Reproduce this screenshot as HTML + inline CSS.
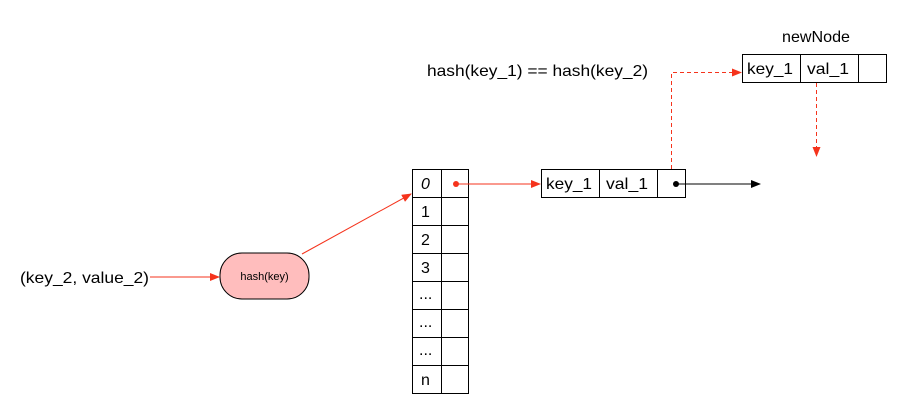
<!DOCTYPE html>
<html><head><style>
body{margin:0;background:#fff;}
svg{display:block;font-family:"Liberation Sans",sans-serif;}
</style></head><body>
<svg width="907" height="414" viewBox="0 0 907 414">
<defs>
<marker id="r" markerWidth="10" markerHeight="8" refX="9" refY="4" orient="auto" markerUnits="userSpaceOnUse"><path d="M0,0 L10,4 L0,8z" fill="#f5331c"/></marker>
<marker id="b" markerWidth="10" markerHeight="8" refX="9" refY="4" orient="auto" markerUnits="userSpaceOnUse"><path d="M0,0 L10,4 L0,8z" fill="#000"/></marker>
</defs>
<g fill="none" stroke="#000" stroke-width="1">
<rect x="412.5" y="169.5" width="56" height="224"/>
<line x1="441.5" y1="169" x2="441.5" y2="393"/>
<line x1="412" y1="197.5" x2="468" y2="197.5"/>
<line x1="412" y1="225.5" x2="468" y2="225.5"/>
<line x1="412" y1="253.5" x2="468" y2="253.5"/>
<line x1="412" y1="281.5" x2="468" y2="281.5"/>
<line x1="412" y1="309.5" x2="468" y2="309.5"/>
<line x1="412" y1="337.5" x2="468" y2="337.5"/>
<line x1="412" y1="365.5" x2="468" y2="365.5"/>
<rect x="541.5" y="169.5" width="144" height="28"/>
<line x1="599.5" y1="169" x2="599.5" y2="197"/>
<line x1="657.5" y1="169" x2="657.5" y2="197"/>
<rect x="742.5" y="54.5" width="144" height="28"/>
<line x1="800.5" y1="54" x2="800.5" y2="82"/>
<line x1="858.5" y1="54" x2="858.5" y2="82"/>
</g>
<rect x="220" y="253" width="89" height="46" rx="22" fill="#ffbdbd" stroke="#000"/>
<text x="264.5" y="280" font-size="11" text-anchor="middle">hash(key)</text>
<g font-size="16">
<text x="20" y="283" textLength="129" lengthAdjust="spacingAndGlyphs">(key_2, value_2)</text>
<text x="427" y="76" textLength="221" lengthAdjust="spacingAndGlyphs">hash(key_1) == hash(key_2)</text>
<text x="782" y="42" textLength="68" lengthAdjust="spacingAndGlyphs">newNode</text>
<text x="421" y="189" font-style="italic">0</text>
<text x="421" y="217">1</text>
<text x="421" y="245">2</text>
<text x="421" y="273">3</text>
<text x="419" y="299">...</text>
<text x="419" y="327">...</text>
<text x="419" y="355">...</text>
<text x="421" y="385">n</text>
<text x="546" y="189" textLength="46" lengthAdjust="spacingAndGlyphs">key_1</text>
<text x="606" y="189" textLength="42" lengthAdjust="spacingAndGlyphs">val_1</text>
<text x="747" y="74" textLength="46" lengthAdjust="spacingAndGlyphs">key_1</text>
<text x="807" y="74" textLength="42" lengthAdjust="spacingAndGlyphs">val_1</text>
</g>
<g stroke="#f5331c" stroke-width="1" fill="none">
<line x1="150" y1="277" x2="219" y2="277" marker-end="url(#r)"/>
<line x1="302" y1="254" x2="411" y2="194" marker-end="url(#r)"/>
<line x1="456" y1="184" x2="540" y2="184" marker-end="url(#r)"/>
<polyline points="671.5,169 671.5,72.5 741,72.5" stroke-dasharray="4,3" marker-end="url(#r)"/>
<line x1="816.5" y1="83" x2="816.5" y2="156" stroke-dasharray="4,3" marker-end="url(#r)"/>
</g>
<circle cx="456" cy="184" r="3" fill="#f5331c"/>
<circle cx="676" cy="184" r="3" fill="#000"/>
<line x1="676" y1="184" x2="760" y2="184" stroke="#000" marker-end="url(#b)"/>
</svg>
</body></html>
